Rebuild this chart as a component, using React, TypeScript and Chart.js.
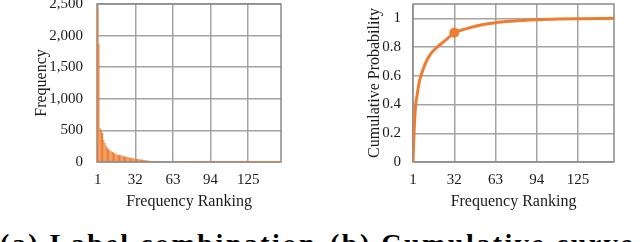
import React, { useEffect, useRef } from 'react';
import { Chart, registerables } from 'chart.js';

Chart.register(...registerables);

// ---------- data ----------
const xTickValues = [1, 32, 63, 94, 125];
const freqYTicks = [0, 500, 1000, 1500, 2000, 2500];
const cumYTicks = [0, 0.2, 0.4, 0.6, 0.8, 1];

// frequency of each label combination, by rank 1..152
const frequencies = [
  2450, 1870, 530, 500, 460, 350, 300, 250, 220, 200,
  185, 170, 160, 150, 140, 130, 120, 115, 110, 105,
  100, 95, 90, 85, 80, 75, 70, 66, 62, 58,
  55, 52, 50, 47, 44, 41, 38, 35, 32, 29,
  26, 23, 20, 18, 16, 15, 15, 14, 14, 13,
  13, 12, 12, 12, 11, 11, 10, 10, 10, 9,
  9, 9, 8, 8, 8, 8, 7, 7, 7, 7,
  6, 6, 6, 6, 6, 5, 5, 5, 5, 5,
  5, 4, 4, 4, 4, 4, 4, 4, 3, 3,
  3, 3, 3, 3, 3, 3, 3, 3, 3, 2,
  2, 2, 2, 2, 2, 2, 2, 2, 2, 2,
  2, 2, 2, 2, 2, 2, 2, 2, 2, 2,
  2, 2, 2, 2, 2, 1, 1, 1, 1, 1,
  1, 1, 1, 1, 1, 1, 1, 1, 1, 1,
  1, 1, 1, 1, 1, 1, 1, 1, 1, 1,
  1, 1,
];

// cumulative probability read at sample ranks
const cumRanks = [1, 2, 3, 4, 5, 6, 8, 11, 14, 18, 23, 27, 32, 40, 50, 63, 75, 94, 110, 125, 152];
const cumValues = [0, 0.25, 0.4, 0.46, 0.52, 0.57, 0.63, 0.7, 0.75, 0.79, 0.83, 0.86, 0.9, 0.925, 0.95, 0.97, 0.98, 0.99, 0.995, 0.998, 1.0];
const highlightRank = 32;

const rankMax = 152;

// ---------- styles ----------
const ORANGE = '#ED7D31';
const GRID = '#a3a3a3';
const BOX = '#8a8a8a';
const TEXT = '#1a1a1a';
const FONT = "'Liberation Serif', 'Times New Roman', serif";

Chart.defaults.font.family = FONT;

const boxPlugin = {
  id: 'plotBox',
  beforeDatasetsDraw(chart: any) {
    const { ctx, chartArea } = chart;
    const { left, top, right, bottom } = chartArea;
    ctx.save();
    ctx.strokeStyle = BOX;
    ctx.lineWidth = 1.5;
    ctx.strokeRect(left, top, right - left, bottom - top);
    ctx.restore();
  },
};

function zeroPad(s: any) {
  s.paddingTop = 0;
  s.paddingBottom = 0;
  s.paddingLeft = 0;
  s.paddingRight = 0;
}

function xScale(min: number) {
  return {
    type: 'linear',
    min,
    max: rankMax,
    offset: false,
    afterBuildTicks: (s: any) => {
      s.ticks = xTickValues.map((v) => ({ value: v }));
    },
    grid: { color: GRID, lineWidth: 1.5, drawTicks: false, offset: false },
    border: { display: false },
    ticks: { padding: 9, color: TEXT, font: { family: FONT, size: 15 }, callback: (v: any) => String(v) },
    title: {
      display: true,
      text: 'Frequency Ranking',
      color: TEXT,
      font: { family: FONT, size: 16 },
      padding: { top: 0, bottom: 4 },
    },
    afterFit: (s: any) => {
      s.height = 53;
      zeroPad(s);
    },
  };
}

function FreqChart() {
  const ref = useRef<HTMLCanvasElement>(null);
  useEffect(() => {
    const data = frequencies.map((v, i) => ({ x: i + 1, y: v }));
    const chart = new Chart(ref.current as HTMLCanvasElement, {
      type: 'bar',
      data: {
        datasets: [
          {
            data,
            backgroundColor: ORANGE,
            borderWidth: 0,
            barPercentage: 0.95,
            categoryPercentage: 1,
          },
        ],
      },
      options: {
        responsive: false,
        animation: false,
        layout: { padding: { left: 0, right: 39, top: 4, bottom: 0 } },
        plugins: { legend: { display: false }, tooltip: { enabled: false } },
        scales: {
          x: xScale(0.4) as any,
          y: {
            min: 0,
            max: 2500,
            afterBuildTicks: (s: any) => {
              s.ticks = freqYTicks.map((v) => ({ value: v }));
            },
            grid: { color: GRID, lineWidth: 1.5, drawTicks: false },
            border: { display: false },
            ticks: {
              padding: 14,
              color: TEXT,
              font: { family: FONT, size: 15 },
              callback: (v: any) => Number(v).toLocaleString('en-US'),
            },
            title: {
              display: true,
              text: 'Frequency',
              color: TEXT,
              font: { family: FONT, size: 16 },
              padding: { top: 32, bottom: 0 },
            },
            afterFit: (s: any) => {
              s.width = 97;
              zeroPad(s);
            },
          } as any,
        },
      },
      plugins: [boxPlugin],
    });
    return () => chart.destroy();
  }, []);
  return <canvas ref={ref} width={320} height={215} style={{ width: 320, height: 215, display: 'block' }} />;
}

function CumChart() {
  const ref = useRef<HTMLCanvasElement>(null);
  useEffect(() => {
    const data = cumRanks.map((r, i) => ({ x: r, y: cumValues[i] }));
    const chart = new Chart(ref.current as HTMLCanvasElement, {
      type: 'line',
      data: {
        datasets: [
          {
            data,
            borderColor: ORANGE,
            backgroundColor: ORANGE,
            borderWidth: 3,
            cubicInterpolationMode: 'monotone',
            pointRadius: (ctx: any) => (ctx.raw && ctx.raw.x === highlightRank ? 5 : 0),
            pointBorderWidth: 0,
          } as any,
        ],
      },
      options: {
        responsive: false,
        animation: false,
        layout: { padding: { left: 0, right: 26, top: 4, bottom: 0 } },
        plugins: { legend: { display: false }, tooltip: { enabled: false } },
        scales: {
          x: xScale(1) as any,
          y: {
            min: 0,
            max: 1.1,
            afterBuildTicks: (s: any) => {
              s.ticks = cumYTicks.map((v) => ({ value: v }));
            },
            grid: { color: GRID, lineWidth: 1.5, drawTicks: false },
            border: { display: false },
            ticks: {
              padding: 12,
              color: TEXT,
              font: { family: FONT, size: 15 },
              callback: (v: any) => String(v),
            },
            title: {
              display: true,
              text: 'Cumulative Probability',
              color: TEXT,
              font: { family: FONT, size: 16 },
              padding: { top: 45, bottom: 0 },
            },
            afterFit: (s: any) => {
              s.width = 93;
              zeroPad(s);
            },
          } as any,
        },
      },
      plugins: [boxPlugin],
    });
    return () => chart.destroy();
  }, []);
  return <canvas ref={ref} width={320} height={215} style={{ width: 320, height: 215, display: 'block' }} />;
}

const captionStyle: React.CSSProperties = {
  position: 'absolute',
  top: 230,
  fontFamily: FONT,
  fontWeight: 'bold',
  fontSize: 28,
  lineHeight: '28px',
  letterSpacing: 2.5,
  whiteSpace: 'nowrap',
  color: '#000',
};

export default function App() {
  return (
    <div
      style={{
        position: 'absolute',
        left: 0,
        top: 0,
        width: 640,
        height: 242,
        overflow: 'hidden',
        background: '#fff',
      }}
    >
      <div style={{ position: 'absolute', left: 0, top: 0 }}>
        <FreqChart />
      </div>
      <div style={{ position: 'absolute', left: 320, top: 0 }}>
        <CumChart />
      </div>
      <div style={{ ...captionStyle, left: 0 }}>(a) Label combination</div>
      <div style={{ ...captionStyle, left: 330 }}>(b) Cumulative curve and</div>
    </div>
  );
}
